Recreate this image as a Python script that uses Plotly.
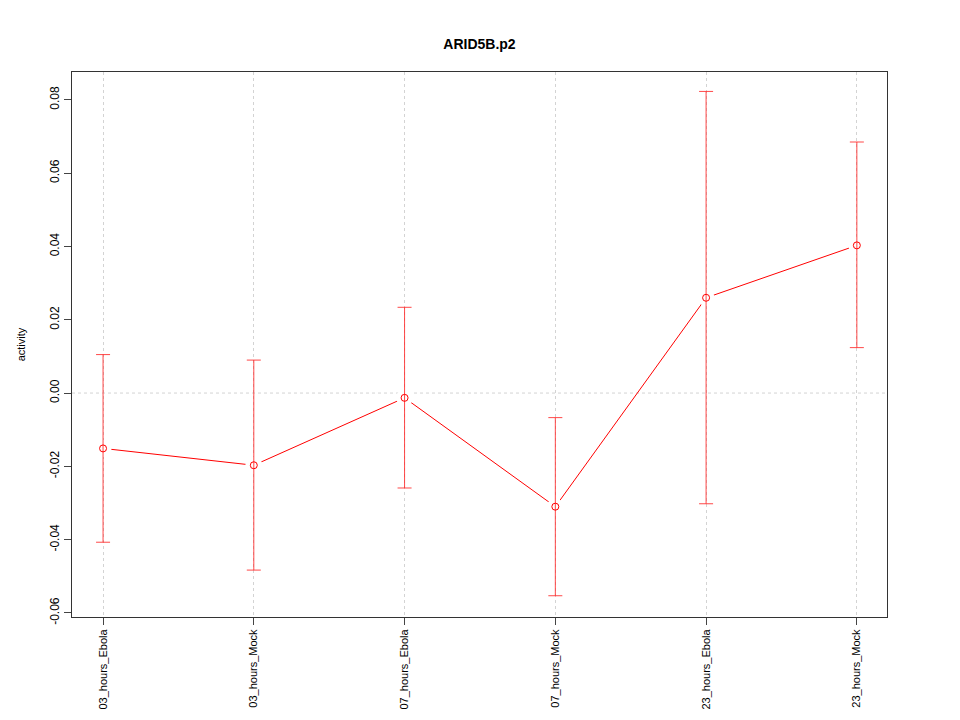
import plotly.graph_objects as go

categories = ["03_hours_Ebola", "03_hours_Mock", "07_hours_Ebola", "07_hours_Mock", "23_hours_Ebola", "23_hours_Mock"]
means = [-0.0151, -0.0197, -0.0013, -0.0310, 0.0260, 0.0403]
upper = [0.0105, 0.0090, 0.0234, -0.0067, 0.0823, 0.0685]
lower = [-0.0407, -0.0483, -0.0259, -0.0553, -0.0302, 0.0124]
y_ticks = [-0.06, -0.04, -0.02, 0.00, 0.02, 0.04, 0.06, 0.08]

x = list(range(1, len(categories) + 1))
err_plus = [u - m for u, m in zip(upper, means)]
err_minus = [m - l for m, l in zip(means, lower)]

RED = "#ff0000"
FONT = "Liberation Sans, Arial, Helvetica, sans-serif"

# page body has an 8px margin, so the figure is made 8px smaller and margins shifted
W, H = 952, 712

fig = go.Figure()
fig.add_trace(go.Scatter(x=x, y=means, mode="lines",
                         line=dict(color=RED, width=1), hoverinfo="skip", showlegend=False))
# white halo to give gaps in the line near points (R type="b")
fig.add_trace(go.Scatter(x=x, y=means, mode="markers",
                         marker=dict(symbol="circle", size=17, color="white", line=dict(width=0)),
                         hoverinfo="skip", showlegend=False))
fig.add_trace(go.Scatter(x=x, y=means, mode="markers",
                         marker=dict(symbol="circle-open", size=7, color=RED, line=dict(width=1)),
                         error_y=dict(type="data", symmetric=False, array=err_plus, arrayminus=err_minus,
                                      color="rgba(255,40,40,0.85)", thickness=1, width=7),
                         showlegend=False))

fig.add_shape(type="line", xref="paper", x0=0, x1=1, yref="y", y0=0, y1=0,
              line=dict(color="#d3d3d3", width=1, dash="dot"), layer="below")

fig.update_layout(
    width=W, height=H,
    margin=dict(l=64, r=73, t=64, b=103, autoexpand=False),
    paper_bgcolor="white", plot_bgcolor="white",
    font=dict(family=FONT, size=12, color="black"),
    title=dict(text="<b>ARID5B.p2</b>", xref="paper", x=0.5, xanchor="center",
               y=1 - 36 / H, yanchor="middle",
               font=dict(family=FONT, size=14, color="black")),
    xaxis=dict(range=[0.794, 6.2], tickmode="array", tickvals=x, ticktext=categories,
               tickangle=-90, ticks="outside", ticklen=7, tickcolor="#444", automargin=False,
               showgrid=True, gridcolor="#d3d3d3", griddash="dot", gridwidth=1,
               showline=True, linecolor="#333", linewidth=1, mirror=True, zeroline=False,
               tickfont=dict(size=11)),
    yaxis=dict(range=[-0.0611, 0.0876], tickmode="array", tickvals=y_ticks,
               ticktext=[f"{v:.2f}" for v in y_ticks], automargin=False,
               tickangle=-90, ticks="outside", ticklen=7, tickcolor="#444",
               showgrid=False, zeroline=False,
               showline=True, linecolor="#333", linewidth=1, mirror=True,
               title=dict(text="activity", standoff=20, font=dict(size=11)),
               tickfont=dict(size=12)),
)

fig.write_html("out.html")
